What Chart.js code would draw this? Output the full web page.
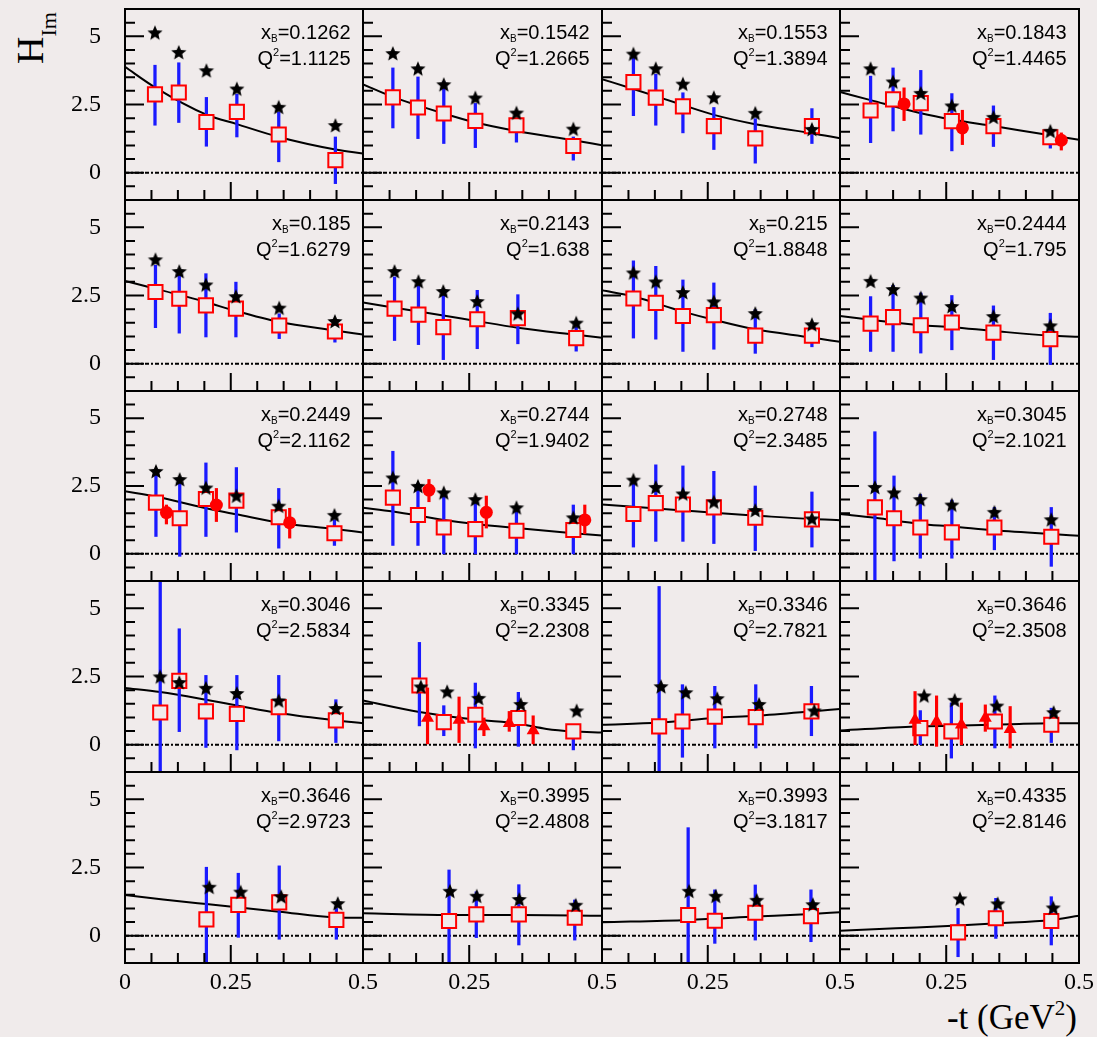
<!DOCTYPE html>
<html>
<head>
<meta charset="utf-8">
<script src="https://cdn.jsdelivr.net/npm/chart.js@4.4.1/dist/chart.umd.min.js"></script>
<style>
html,body{margin:0;padding:0;background:#f0ebeb;}
#wrap{position:relative;width:1097px;height:1037px;overflow:hidden;background:#f0ebeb;}
.pc{position:absolute;}
.pc canvas{display:block;}
#yt{position:absolute;left:11px;top:64px;transform-origin:0 0;transform:rotate(-90deg);font-family:"Liberation Serif",serif;font-size:38px;line-height:1;white-space:nowrap;color:#000;}
#yt span{font-size:22px;position:relative;top:13px;}
#xt{position:absolute;right:20px;top:1000px;font-family:"Liberation Serif",serif;font-size:35px;line-height:1;white-space:nowrap;color:#000;}
#xt span{font-size:21px;position:relative;top:-14px;}
</style>
</head>
<body>
<div id="wrap">
<div id="yt">H<span>Im</span></div>
<div id="xt">-t (GeV<span>2</span>)</div>
</div>
<script>
// ---------------- data ----------------
const xB = ['0.1262','0.1542','0.1553','0.1843','0.185','0.2143','0.215','0.2444','0.2449','0.2744','0.2748','0.3045','0.3046','0.3345','0.3346','0.3646','0.3646','0.3995','0.3993','0.4335'];
const Q2 = ['1.1125','1.2665','1.3894','1.4465','1.6279','1.638','1.8848','1.795','2.1162','1.9402','2.3485','2.1021','2.5834','2.2308','2.7821','2.3508','2.9723','2.4808','3.1817','2.8146'];

// open squares (with blue error bars)
const sqT = [
 [0.063,0.113,0.171,0.235,0.323,0.442],
 [0.0625,0.115,0.169,0.235,0.321,0.44],
 [0.066,0.113,0.170,0.235,0.322,0.441],
 [0.064,0.111,0.169,0.234,0.321,0.44],
 [0.064,0.114,0.170,0.233,0.324,0.441],
 [0.066,0.116,0.168,0.239,0.324,0.446],
 [0.066,0.113,0.170,0.235,0.322,0.441],
 [0.064,0.111,0.169,0.234,0.321,0.44],
 [0.065,0.115,0.170,0.234,0.323,0.440],
 [0.0625,0.115,0.169,0.235,0.321,0.44],
 [0.066,0.113,0.170,0.235,0.322,0.441],
 [0.073,0.113,0.168,0.234,0.323,0.442],
 [0.074,0.114,0.170,0.235,0.323,0.443],
 [0.118,0.169,0.235,0.325,0.44],
 [0.120,0.169,0.237,0.323,0.44],
 [0.168,0.233,0.324,0.442],
 [0.171,0.238,0.324,0.444],
 [0.180,0.237,0.326,0.443],
 [0.181,0.237,0.322,0.439],
 [0.247,0.326,0.442]
];
const sqH = [
 [2.87,2.94,1.86,2.23,1.40,0.46],
 [2.76,2.39,2.17,1.90,1.74,0.98],
 [3.32,2.75,2.43,1.71,1.26,1.71],
 [2.28,2.69,2.55,1.89,1.71,1.30],
 [2.63,2.38,2.14,2.02,1.40,1.18],
 [2.02,1.80,1.34,1.63,1.67,0.94],
 [2.39,2.23,1.75,1.78,1.03,1.03],
 [1.47,1.71,1.41,1.51,1.14,0.90],
 [1.89,1.31,2.02,1.96,1.35,0.76],
 [2.07,1.43,0.97,0.91,0.85,0.88],
 [1.47,1.87,1.82,1.71,1.33,1.27],
 [1.71,1.31,0.97,0.79,0.97,0.63],
 [1.18,2.34,1.22,1.13,1.38,0.89],
 [2.17,0.83,1.10,0.98,0.49],
 [0.67,0.85,1.03,1.01,1.22],
 [0.61,0.49,0.85,0.73],
 [0.60,1.13,1.22,0.58],
 [0.54,0.78,0.78,0.66],
 [0.76,0.55,0.84,0.72],
 [0.12,0.64,0.54]
];
const sqLo = [
 [1.74,1.84,0.97,1.31,0.40,-0.40],
 [1.64,1.25,1.07,0.92,1.12,0.46],
 [2.09,1.74,1.46,0.85,0.35,1.07],
 [1.10,1.53,1.41,0.80,0.96,0.90],
 [1.32,1.12,0.98,0.98,0.92,0.79],
 [0.85,0.70,0.15,0.55,0.73,0.46],
 [0.94,0.90,0.45,0.53,0.38,0.62],
 [0.45,0.45,0.39,0.51,0.15,-0.03],
 [0.64,-0.09,0.64,0.80,0.21,0.31],
 [0.31,0.31,0.00,0.00,0.00,0.00],
 [0.25,0.46,0.46,0.38,0.12,0.25],
 [-1.0,-0.26,-0.16,-0.16,0.15,-0.46],
 [-1.0,0.48,-0.10,-0.19,0.14,0.08],
 [0.69,0.33,-0.12,-0.06,-0.19],
 [-1.0,-0.46,-0.12,-0.12,0.33],
 [0.00,-0.49,-0.12,0.08],
 [-1.0,-0.06,-0.13,-0.13],
 [-1.0,-0.07,-0.34,-0.16],
 [-1.0,-0.28,-0.16,-0.22],
 [-0.77,-0.10,-0.34]
];
const sqHi = [
 [3.94,4.03,2.76,2.88,2.23,1.31],
 [3.84,3.51,3.33,2.54,1.96,1.31],
 [4.40,3.61,2.93,2.39,1.98,2.35],
 [3.54,3.84,3.75,2.90,2.45,1.50],
 [3.61,3.24,3.30,2.99,1.83,1.47],
 [3.18,3.06,2.63,2.69,2.53,1.34],
 [3.77,3.57,3.07,2.96,1.98,1.30],
 [2.46,2.87,2.59,2.50,2.12,1.85],
 [2.96,2.72,3.35,3.18,2.41,1.25],
 [3.78,2.60,2.23,1.92,1.62,1.80],
 [2.66,3.28,3.24,3.04,2.50,2.28],
 [4.50,2.87,2.19,1.98,1.71,1.71],
 [6.0,4.25,2.54,2.54,2.54,1.65],
 [3.75,1.43,2.26,1.92,0.73],
 [5.80,2.20,2.14,2.20,2.14],
 [1.25,1.53,1.79,1.34],
 [2.51,2.29,2.56,1.00],
 [2.41,1.61,1.87,1.31],
 [3.96,1.68,1.86,1.68],
 [1.00,1.37,1.43]
];

// black stars
const starT = [
 [0.063,0.113,0.171,0.235,0.323,0.442],
 [0.0625,0.115,0.169,0.235,0.321,0.44],
 [0.066,0.113,0.170,0.235,0.322,0.441],
 [0.064,0.111,0.169,0.234,0.321,0.44],
 [0.064,0.114,0.170,0.233,0.324,0.441],
 [0.066,0.116,0.168,0.239,0.324,0.446],
 [0.066,0.113,0.170,0.235,0.322,0.441],
 [0.064,0.111,0.169,0.234,0.321,0.44],
 [0.065,0.115,0.170,0.234,0.323,0.440],
 [0.0625,0.115,0.169,0.235,0.321,0.44],
 [0.066,0.113,0.170,0.235,0.322,0.441],
 [0.073,0.113,0.168,0.234,0.323,0.442],
 [0.074,0.114,0.170,0.235,0.323,0.443],
 [0.121,0.176,0.242,0.330,0.447],
 [0.124,0.176,0.242,0.330,0.446],
 [0.176,0.240,0.328,0.447],
 [0.177,0.243,0.328,0.447],
 [0.182,0.238,0.327,0.445],
 [0.183,0.239,0.325,0.443],
 [0.251,0.330,0.446]
];
const starH = [
 [5.11,4.39,3.72,3.05,2.38,1.71],
 [4.35,3.79,3.21,2.72,2.17,1.58],
 [4.33,3.79,3.23,2.73,2.16,1.57],
 [3.79,3.31,2.89,2.43,2.01,1.50],
 [3.79,3.36,2.87,2.44,2.02,1.53],
 [3.36,2.99,2.63,2.26,1.81,1.47],
 [3.31,2.98,2.59,2.25,1.82,1.41],
 [3.00,2.70,2.39,2.08,1.71,1.37],
 [3.02,2.72,2.41,2.11,1.74,1.40],
 [2.78,2.47,2.23,1.98,1.68,1.31],
 [2.70,2.43,2.19,1.89,1.58,1.27],
 [2.43,2.23,1.98,1.78,1.51,1.24],
 [2.47,2.26,2.05,1.86,1.59,1.31],
 [2.10,1.92,1.68,1.46,1.22],
 [2.11,1.89,1.67,1.46,1.22],
 [1.77,1.61,1.40,1.16],
 [1.76,1.58,1.41,1.16],
 [1.61,1.43,1.31,1.10],
 [1.61,1.43,1.28,1.12],
 [1.33,1.15,1.00]
];

// red filled circles (panel index -> values)
const circT  = {3:[0.134,0.256,0.463], 8:[0.087,0.192,0.346], 9:[0.138,0.258,0.464]};
const circH  = {3:[2.52,1.64,1.19],    8:[1.52,1.80,1.15],    9:[2.35,1.53,1.25]};
const circLo = {3:[1.91,1.03,0.83],    8:[1.10,1.19,0.58],    9:[1.92,0.95,0.74]};
const circHi = {3:[3.11,2.29,1.46],    8:[1.80,2.41,1.68],    9:[2.74,2.13,1.80]};

// red filled triangles
const triT  = {13:[0.135,0.201,0.253,0.306,0.356], 15:[0.157,0.202,0.254,0.304,0.356]};
const triH  = {13:[0.98,0.91,0.67,0.79,0.52],      15:[0.91,0.85,0.73,0.98,0.57]};
const triLo = {13:[0.03,0.08,0.33,0.49,0.03],      15:[0.00,-0.06,0.00,0.49,-0.12]};
const triHi = {13:[2.08,1.75,0.98,1.22,1.06],      15:[1.95,1.79,1.53,1.46,1.40]};

// black curve
const curveT = [
 [0,0.063,0.171,0.235,0.323,0.442,0.5],
 [0,0.0625,0.169,0.235,0.321,0.44,0.5],
 [0,0.066,0.170,0.235,0.322,0.441,0.5],
 [0,0.064,0.169,0.234,0.321,0.44,0.5],
 [0,0.064,0.170,0.233,0.324,0.441,0.5],
 [0,0.066,0.168,0.239,0.324,0.446,0.5],
 [0,0.066,0.170,0.235,0.322,0.441,0.5],
 [0,0.064,0.169,0.234,0.321,0.44,0.5],
 [0,0.065,0.170,0.234,0.323,0.440,0.5],
 [0,0.0625,0.169,0.235,0.321,0.44,0.5],
 [0,0.066,0.170,0.235,0.322,0.441,0.5],
 [0,0.073,0.168,0.234,0.323,0.442,0.5],
 [0,0.074,0.170,0.235,0.323,0.443,0.5],
 [0,0.118,0.235,0.325,0.384,0.44,0.5],
 [0,0.12,0.237,0.323,0.44,0.5],
 [0,0.157,0.254,0.356,0.442,0.5],
 [0,0.08,0.171,0.324,0.444,0.5],
 [0,0.18,0.326,0.5],
 [0,0.181,0.322,0.44,0.5],
 [0,0.117,0.247,0.326,0.442,0.5]
];
const curveH = [
 [3.88,3.13,2.13,1.78,1.31,0.85,0.70],
 [3.24,2.78,2.17,1.84,1.53,1.19,1.01],
 [3.43,3.07,2.48,2.12,1.78,1.45,1.26],
 [2.96,2.66,2.18,1.95,1.71,1.37,1.21],
 [3.03,2.75,2.26,1.93,1.53,1.22,1.07],
 [2.24,2.05,1.77,1.56,1.32,1.06,0.95],
 [2.69,2.46,1.91,1.61,1.26,0.96,0.80],
 [1.75,1.61,1.41,1.34,1.20,1.03,0.99],
 [2.31,2.11,1.68,1.46,1.15,0.92,0.79],
 [1.70,1.56,1.25,1.10,0.95,0.76,0.68],
 [1.82,1.74,1.60,1.51,1.41,1.28,1.24],
 [1.47,1.33,1.10,1.01,0.87,0.73,0.67],
 [2.08,1.93,1.65,1.44,1.16,0.89,0.79],
 [1.62,1.20,0.92,0.77,0.58,0.49,0.45],
 [0.73,0.81,0.98,1.06,1.22,1.31],
 [0.52,0.67,0.70,0.75,0.79,0.79],
 [1.49,1.33,1.16,0.88,0.67,0.66],
 [0.82,0.76,0.76,0.73],
 [0.49,0.58,0.70,0.80,0.86],
 [0.18,0.27,0.37,0.45,0.58,0.73]
];

// axes
const xRange = [0, 0.5];
const yRange = [-1, 6];
const xTickPos = [0, 0.2222, 0.5];
const xTickLabels = ['0', '0.25', '0.5'];
const yTickPos = [0, 2.5, 5];
const yTickLabels = ['0', '2.5', '5'];
const xMinorTicks = [0.0556, 0.1111, 0.1667, 0.2778, 0.3333, 0.3889, 0.4444];
const xMajorTicks = [0.2222];
const yMinorTicks = [-0.5, 0.5, 1, 1.5, 2, 3, 3.5, 4, 4.5, 5.5];
const yMajorTicks = [0, 2.5, 5];

// ---------------- layout / style ----------------
const BG = '#f0ebeb';
const colLeft = [125, 363, 602, 840], colW = [238, 239, 238, 239];
const rowTop = [9, 200, 391, 581, 772], rowH = [191, 191, 190, 191, 191];
const M = {l: 62, r: 26, t: 44, b: 50};

function makeStar(R, r, color) {
  const s = 2 * Math.ceil(R + 1);
  const cv = document.createElement('canvas');
  cv.width = s; cv.height = s;
  const g = cv.getContext('2d');
  g.fillStyle = color;
  g.beginPath();
  for (let i = 0; i < 10; i++) {
    const rad = (i % 2) ? r : R;
    const a = -Math.PI / 2 + i * Math.PI / 5;
    g.lineTo(s / 2 + rad * Math.cos(a), s / 2 + rad * Math.sin(a));
  }
  g.closePath();
  g.fill();
  return cv;
}
const starImg = makeStar(8, 3.6, '#000');

function drawRich(ctx, parts, xr, yb) {
  let w = 0;
  parts.forEach(p => { ctx.font = p.size + 'px "Liberation Sans", Arial, sans-serif'; p.w = ctx.measureText(p.t).width; w += p.w; });
  let x = xr - w;
  parts.forEach(p => { ctx.font = p.size + 'px "Liberation Sans", Arial, sans-serif'; ctx.fillText(p.t, x, yb + (p.dy || 0)); x += p.w; });
}

const panelPlugin = {
  id: 'panelDeco',
  afterDatasetsDraw(chart) {
    const {ctx, chartArea: a} = chart;
    const xs = chart.scales.x, ys = chart.scales.y;
    const p = chart.options.plugins.panelDeco.index;
    ctx.save();
    ctx.strokeStyle = '#000';
    ctx.lineWidth = 2;
    ctx.beginPath();
    yMinorTicks.forEach(v => { const py = ys.getPixelForValue(v); ctx.moveTo(a.left, py); ctx.lineTo(a.left + 10, py); });
    yMajorTicks.forEach(v => { const py = ys.getPixelForValue(v); ctx.moveTo(a.left, py); ctx.lineTo(a.left + 19, py); });
    xMinorTicks.forEach(v => { const px = xs.getPixelForValue(v); ctx.moveTo(px, a.bottom); ctx.lineTo(px, a.bottom - 10); });
    xMajorTicks.forEach(v => { const px = xs.getPixelForValue(v); ctx.moveTo(px, a.bottom); ctx.lineTo(px, a.bottom - 18); });
    ctx.stroke();
    ctx.strokeRect(a.left, a.top, a.right - a.left, a.bottom - a.top);
    ctx.fillStyle = '#000';
    ctx.textAlign = 'left';
    ctx.textBaseline = 'alphabetic';
    const xr = a.right - 12.5;
    drawRich(ctx, [{t: 'x', size: 20}, {t: 'B', size: 10, dy: 3}, {t: '=' + xB[p], size: 20}], xr, a.top + 29.5);
    drawRich(ctx, [{t: 'Q', size: 20}, {t: '2', size: 11, dy: -9}, {t: '=' + Q2[p], size: 20}], xr, a.top + 56);
    ctx.restore();
  }
};

const wrap = document.getElementById('wrap');

for (let p = 0; p < 20; p++) {
  const r = Math.floor(p / 4), c = p % 4;
  const W = colW[c] + M.l + M.r, H = rowH[r] + M.t + M.b;
  const div = document.createElement('div');
  div.className = 'pc';
  div.style.left = (colLeft[c] - M.l) + 'px';
  div.style.top = (rowTop[r] - M.t) + 'px';
  div.style.width = W + 'px';
  div.style.height = H + 'px';
  const cv = document.createElement('canvas');
  cv.width = W; cv.height = H;
  cv.style.width = W + 'px'; cv.style.height = H + 'px';
  div.appendChild(cv);
  wrap.appendChild(div);

  const xPos = c === 0 ? xTickPos : xTickPos.slice(1);
  const xLab = c === 0 ? xTickLabels : xTickLabels.slice(1);

  const datasets = [];
  // stars (top-most)
  datasets.push({
    type: 'scatter', order: 1,
    data: starT[p].map((t, i) => ({x: t, y: starH[p][i]})),
    pointStyle: starImg, pointRadius: 8, showLine: false
  });
  if (circT[p]) {
    datasets.push({
      type: 'scatter', order: 2,
      data: circT[p].map((t, i) => ({x: t, y: circH[p][i]})),
      pointStyle: 'circle', pointRadius: 6.5, pointBackgroundColor: '#ff0000', pointBorderWidth: 0, pointBorderColor: '#ff0000', showLine: false
    });
    datasets.push({
      type: 'bar', order: 3, grouped: false, barThickness: 2.5, clip: 0,
      backgroundColor: '#ff0000', borderWidth: 0,
      data: circT[p].map((t, i) => ({x: t, y: [circLo[p][i], circHi[p][i]]}))
    });
  }
  if (triT[p]) {
    datasets.push({
      type: 'scatter', order: 2,
      data: triT[p].map((t, i) => ({x: t, y: triH[p][i]})),
      pointStyle: 'triangle', pointRadius: 7.5, pointBackgroundColor: '#ff0000', pointBorderWidth: 0, pointBorderColor: '#ff0000', showLine: false
    });
    datasets.push({
      type: 'bar', order: 3, grouped: false, barThickness: 2.5, clip: 0,
      backgroundColor: '#ff0000', borderWidth: 0,
      data: triT[p].map((t, i) => ({x: t, y: [triLo[p][i], triHi[p][i]]}))
    });
  }
  // squares
  datasets.push({
    type: 'scatter', order: 4,
    data: sqT[p].map((t, i) => ({x: t, y: sqH[p][i]})),
    pointStyle: 'rect', pointRadius: 10, pointBorderWidth: 2, pointBorderColor: '#ff0000', pointBackgroundColor: BG, showLine: false
  });
  // blue error bars
  datasets.push({
    type: 'bar', order: 5, grouped: false, barThickness: 2.6, clip: 0,
    backgroundColor: '#1a1aff', borderWidth: 0,
    data: sqT[p].map((t, i) => ({x: t, y: [sqLo[p][i], sqHi[p][i]]}))
  });
  // curve
  datasets.push({
    type: 'scatter', order: 6, showLine: true,
    data: curveT[p].map((t, i) => ({x: t, y: curveH[p][i]})),
    borderColor: '#000', borderWidth: 2, pointRadius: 0, cubicInterpolationMode: 'monotone', fill: false
  });
  // dotted zero line
  datasets.push({
    type: 'scatter', order: 7, showLine: true,
    data: [{x: xRange[0], y: 0}, {x: xRange[1], y: 0}],
    borderColor: '#000', borderWidth: 2, borderDash: [4, 2, 2, 2], pointRadius: 0, fill: false
  });

  new Chart(cv, {
    type: 'scatter',
    data: {datasets},
    options: {
      responsive: false, animation: false, events: [], devicePixelRatio: 1,
      layout: {padding: {left: 0, right: M.r, top: M.t, bottom: 0}},
      plugins: {legend: {display: false}, tooltip: {enabled: false}, panelDeco: {index: p}},
      scales: {
        x: {
          type: 'linear', min: xRange[0], max: xRange[1], offset: false,
          grid: {display: false, drawTicks: false}, border: {display: false},
          afterFit(s) { s.height = M.b; },
          afterBuildTicks(s) { s.ticks = xPos.map(v => ({value: v})); },
          ticks: {
            display: r === 4, autoSkip: false, maxRotation: 0, minRotation: 0, padding: 5,
            color: '#000', font: {family: '"Liberation Serif", serif', size: 24},
            callback: (v, i) => xLab[i]
          }
        },
        y: {
          type: 'linear', min: yRange[0], max: yRange[1],
          grid: {display: false, drawTicks: false}, border: {display: false},
          afterFit(s) { s.width = M.l; },
          afterBuildTicks(s) { s.ticks = yTickPos.map(v => ({value: v})); },
          ticks: {
            display: c === 0, autoSkip: false, padding: 24,
            color: '#000', font: {family: '"Liberation Serif", serif', size: 24},
            callback: (v, i) => yTickLabels[i]
          }
        }
      }
    },
    plugins: [panelPlugin]
  });
}
</script>
</body>
</html>
